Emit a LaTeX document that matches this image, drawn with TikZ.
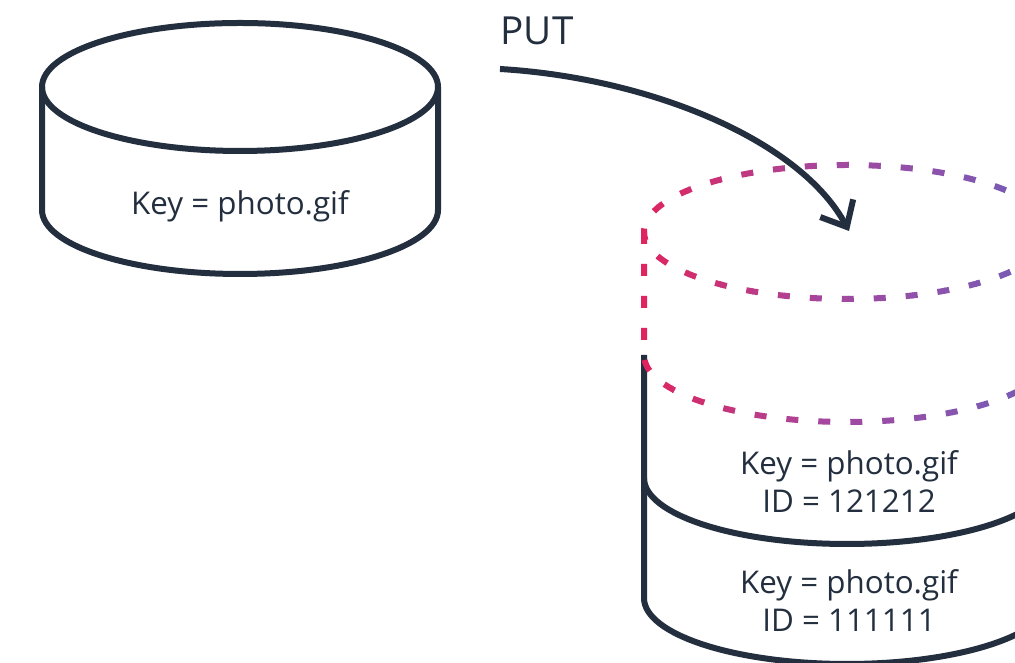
\documentclass[tikz,border=0pt]{standalone}
\usepackage{fontspec}
\setmainfont{Open Sans}
\usetikzlibrary{arrows.meta}
\definecolor{ink}{HTML}{232F3E}
\definecolor{pinkend}{HTML}{E0245E}
\definecolor{midpurple}{HTML}{A6479E}
\definecolor{violetend}{HTML}{7B5AB4}

\begin{document}
\begin{tikzpicture}[x=0.75pt,y=0.75pt,
    cyl/.style={ink, line width=4.5pt, line join=round},
    newpart/.style={line width=4.5pt, dash pattern=on 9pt off 15pt},
    keytext/.style={text=ink, font=\fontsize{23.5}{28.5}\selectfont, align=center},
    putarrow/.style={ink, line width=4.5pt, -{Straight Barb[length=16pt,width=28pt]}}]
  \useasboundingbox (0,0) rectangle (1015,663);
  \fill[white] (0,0) rectangle (1015,663);

  % bucket before the upload
  \draw[cyl] (240,576) ellipse [x radius=198, y radius=64];
  \draw[cyl] (42,576) -- (42,453) arc [start angle=180, end angle=360, x radius=198, y radius=64] -- (438,576);
  \node[keytext, anchor=base] (oldkey) at (240,448) {Key = photo.gif};

  % versioned bucket, older versions
  \draw[cyl] (644,308) -- (644,65) arc [start angle=180, end angle=360, x radius=203, y radius=66] -- (1050,308);
  \draw[cyl] (644,185) arc [start angle=180, end angle=360, x radius=203, y radius=66];
  \node[keytext, anchor=base] (ver2) at (849,150) {Key = photo.gif\\ID = 121212};
  \node[keytext, anchor=base] (ver1) at (849,31) {Key = photo.gif\\ID = 111111};

  % new version, dashed, pink to violet
  \foreach \i in {0,...,25} {
    \pgfmathtruncatemacro\xa{640+16*\i}
    \pgfmathtruncatemacro\mix{min(200,max(0,round((\xa+8-643)/360*200)))}
    \ifnum\mix>100
      \pgfmathtruncatemacro\mix{\mix-100}
      \colorlet{dashcol}{violetend!\mix!midpurple}
    \else
      \colorlet{dashcol}{midpurple!\mix!pinkend}
    \fi
    \begin{scope}
      \clip (\xa,0) rectangle (\xa+17,663);
      \draw[newpart, dashcol] (847,431) ellipse [x radius=203, y radius=67];
      \draw[newpart, dashcol] (644,431) -- (644,308) arc [start angle=180, end angle=360, x radius=203, y radius=67] -- (1050,431);
    \end{scope}
  }

  % the PUT request
  \node[keytext, font=\fontsize{29}{35}\selectfont, anchor=base west] (put) at (496,618) {PUT};
  \coordinate (putstart) at (500,594);
  \coordinate (newtop) at (849,432);
  \draw[putarrow] (putstart) .. controls (650,585) and (800,523) .. (newtop);
\end{tikzpicture}
\end{document}
